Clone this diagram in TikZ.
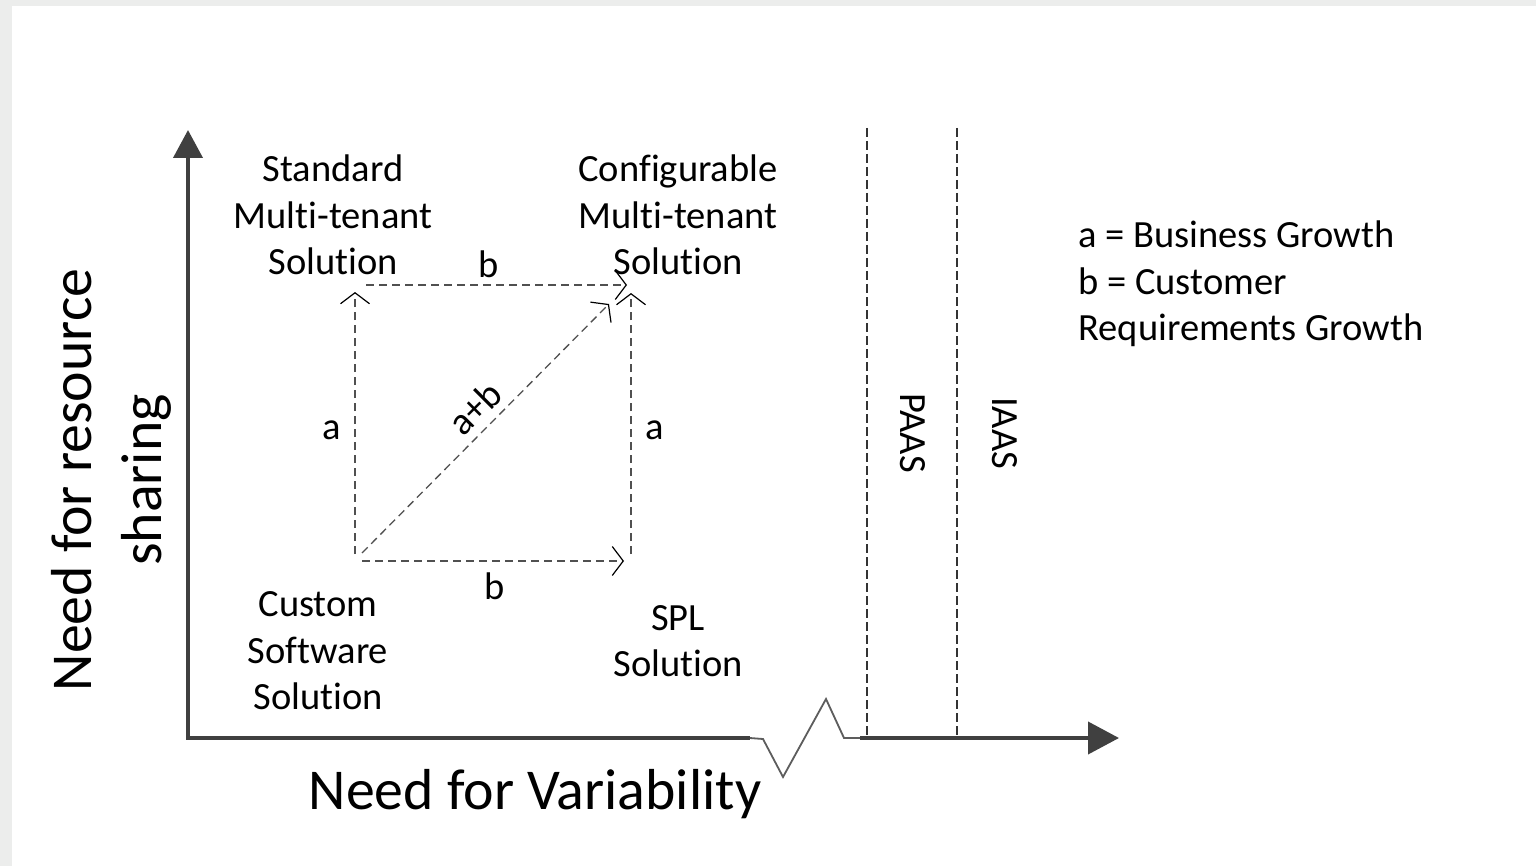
\documentclass[tikz,border=0pt]{standalone}
\usepackage{fontspec}
\setmainfont{Carlito}[Ligatures={NoCommon,NoContextual,NoRare}]
\usetikzlibrary{arrows.meta}
\definecolor{framegray}{HTML}{ECEDEC}
\definecolor{axisgray}{HTML}{404040}
\definecolor{dashgray}{HTML}{505050}
\begin{document}
\begin{tikzpicture}[x=0.5pt,y=-0.5pt,
  lbl/.style={inner sep=0pt, align=center, font=\fontsize{19.25}{23.25}\selectfont},
  legend/.style={inner sep=0pt, align=left, anchor=west, font=\fontsize{19.25}{23.25}\selectfont},
  big/.style={inner sep=0pt, align=center, font=\fontsize{28.9}{35}\selectfont},
  axis/.style={draw=axisgray, line width=2pt, line join=miter},
  brk/.style={draw=axisgray!85, line width=0.9pt},
  flow/.style={draw=dashgray, line width=0.65pt, dash pattern=on 4pt off 2.5pt,
    -{Straight Barb[length=5.5pt,width=14.5pt,line width=0.6pt,black]}},
  zone/.style={draw=black!80, line width=0.55pt, dash pattern=on 4.5pt off 2pt}]
% page and frame
\useasboundingbox (0,0) rectangle (1536,866);
\fill[framegray] (0,0) rectangle (1536,866);
\fill[white] (12,6) rectangle (1536,866);

% platform zones
\coordinate (paasT) at (867,128);
\coordinate (paasB) at (867,738);
\coordinate (iaasT) at (957,128);
\coordinate (iaasB) at (957,738);
\draw[zone] (paasT) -- (paasB);
\draw[zone] (iaasT) -- (iaasB);
\node[lbl, rotate=-90] (paas) at (913,433) {PAAS};
\node[lbl, rotate=-90] (iaas) at (1005,433) {IAAS};

% axes
\coordinate (ytip) at (188,130);
\coordinate (orig) at (188,738);
\coordinate (xbrk) at (750,738);
\coordinate (xres) at (860,738);
\coordinate (xtip) at (1119,738);
\draw[axis, {Triangle[length=14pt,width=14.5pt]}-] (ytip) -- (orig) -- (xbrk);
\draw[brk] (xbrk) -- (763,739) -- (783,777) -- (826,699) -- (844,738) -- (xres);
\draw[axis, -{Triangle[length=15.5pt,width=16pt]}] (xres) -- (xtip);

% transitions between solution types
\coordinate (cLb) at (355,554);
\coordinate (cLt) at (355,292);
\coordinate (cTl) at (366,285);
\coordinate (cTr) at (627,285);
\coordinate (cRb) at (631,554);
\coordinate (cRt) at (631,293);
\coordinate (cBl) at (362,561);
\coordinate (cBr) at (624,561);
\coordinate (cDs) at (362,553);
\coordinate (cDe) at (609,304);
\draw[flow] (cLb) -- (cLt);
\draw[flow] (cTl) -- (cTr);
\draw[flow] (cRb) -- (cRt);
\draw[flow] (cBl) -- (cBr);
\draw[flow] (cDs) -- (cDe);

% quadrant labels
\node[lbl] (std) at (333,215) {Standard\\Multi-tenant\\Solution};
\node[lbl] (cfg) at (678,215) {Configurable\\Multi-tenant\\Solution};
\node[lbl] (cus) at (318,651) {Custom\\Software\\Solution};
\node[lbl] (spl) at (678,641) {SPL\\Solution};

% edge labels
\node[lbl] (bT) at (489,264) {b};
\node[lbl] (bB) at (495,586) {b};
\node[lbl] (aL) at (332,430) {a};
\node[lbl] (aR) at (655,430) {a};
\node[lbl, rotate=45] (ab) at (475,408) {a+b};

% legend
\node[legend] (leg) at (1078,284) {a = Business Growth\\b = Customer\\Requirements Growth};

% axis titles
\node[big] (xlab) at (535,794) {Need for Variability};
\node[big, rotate=90] (ylab) at (111,480) {Need for resource\\sharing};
\end{tikzpicture}
\end{document}
